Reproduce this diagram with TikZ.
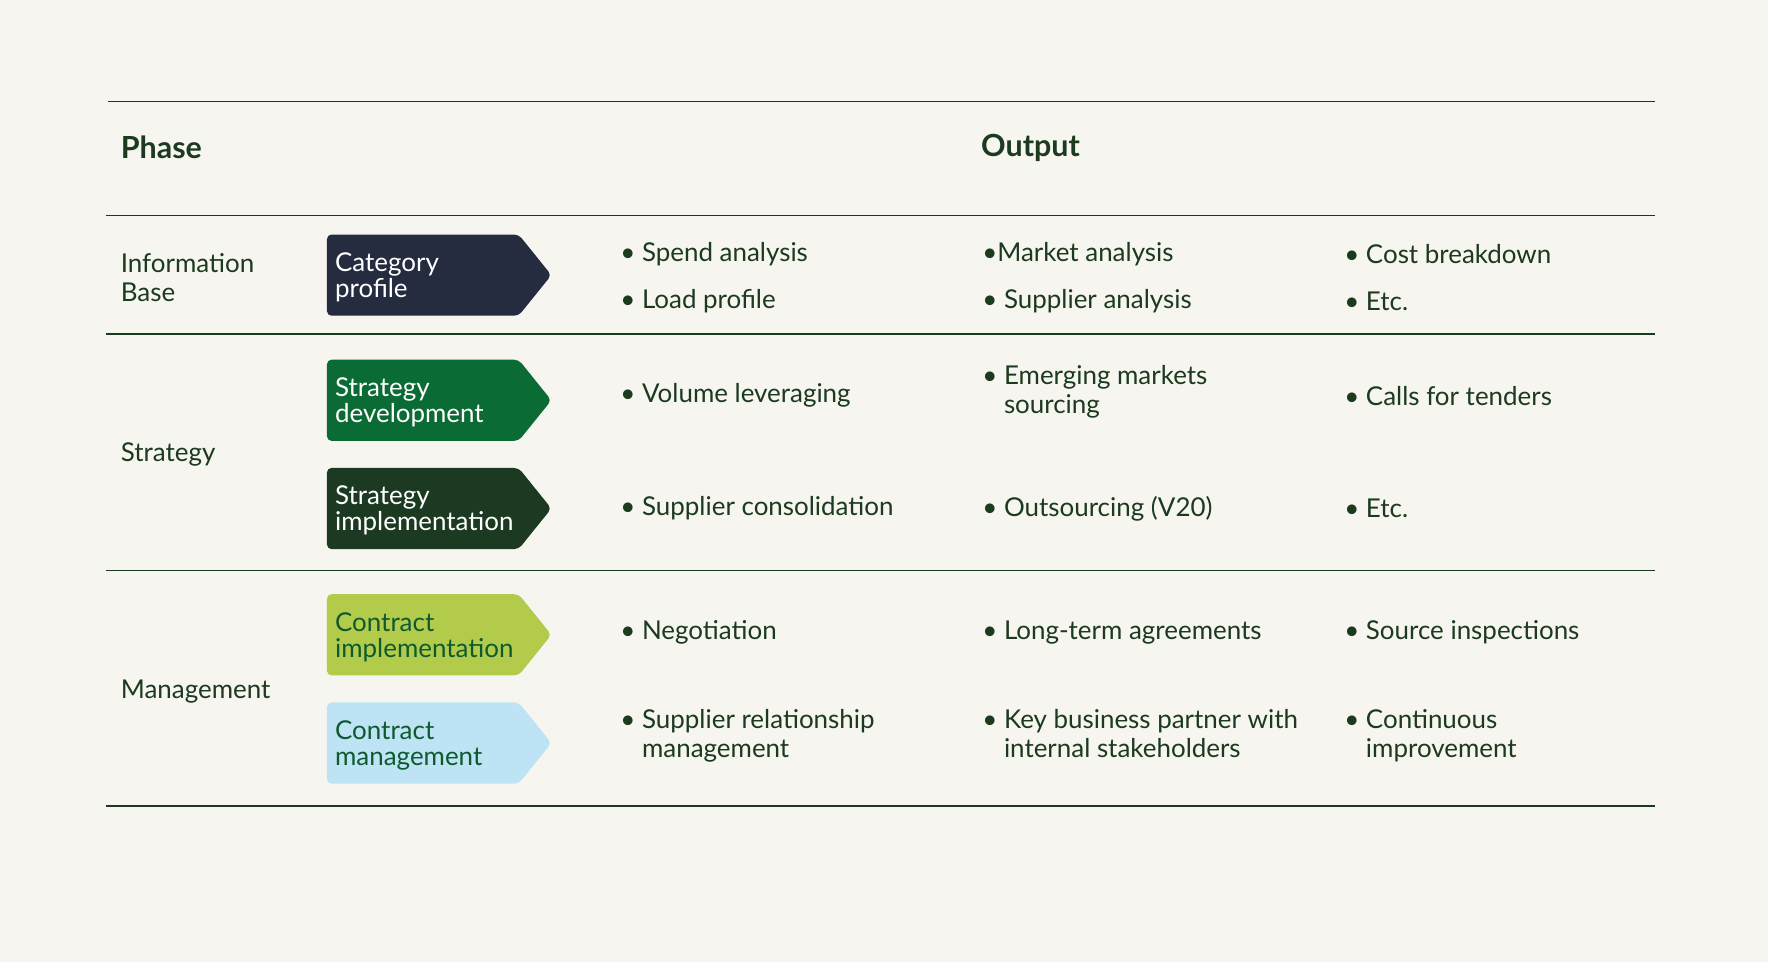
\documentclass[tikz,border=0pt]{standalone}
\usepackage{fontspec}
\setmainfont{Lato}
\definecolor{bg}{HTML}{F7F5F0}
\definecolor{txt}{HTML}{1B3A1E}
\definecolor{navy}{HTML}{262C40}
\definecolor{grn}{HTML}{0B6B35}
\definecolor{dgrn}{HTML}{1C3A22}
\definecolor{lime}{HTML}{B3CB4A}
\definecolor{lblue}{HTML}{BDE3F5}
\definecolor{tgrn}{HTML}{0E5A2E}
\begin{document}
\begin{tikzpicture}[x=1pt,y=-1pt,
 lbl/.style={anchor=west,text=txt,font=\fontsize{23}{26}\selectfont,align=left,inner sep=0},
 hdr/.style={anchor=west,text=txt,font=\fontsize{27}{30}\selectfont\bfseries,inner sep=0},
 atext/.style={anchor=west,font=\fontsize{23}{23}\selectfont,align=left,inner sep=0},
 rule/.style={draw=txt,line width=1.4}]
\fill[bg] (0,0) rectangle (1568,853);
\useasboundingbox (0,0) rectangle (1568,853);
\newcommand{\arr}[4]{% y-center, fill, textcolor, text
 \fill[#2,rounded corners=4] (290,#1-36) -- (460,#1-36) -- (489,#1) -- (460,#1+36) -- (290,#1+36) -- cycle;
 \node[atext,text=#3] at (297,#1+2) {#4};}
\draw[rule] (96,90) -- (1468,90);
\foreach \y in {191,296,506,715} \draw[rule] (94,\y) -- (1468,\y);
\node[hdr] (ph) at (107,131) {Phase};
\node[hdr] (out) at (870,131) {Output};
\node[lbl] (ib) at (107,246) {Information\\Base};
\node[lbl] (st) at (107,403) {Strategy};
\node[lbl] (mg) at (107,613) {Management};
\arr{244}{navy}{white}{Category\\profile}
\arr{355}{grn}{white}{Strategy\\development}
\arr{451}{dgrn}{white}{Strategy\\implementation}
\arr{563}{lime}{tgrn}{Contract\\implementation}
\arr{659}{lblue}{tgrn}{Contract\\management}
\node[lbl] at (550,225) {• Spend analysis};
\node[lbl] at (550,267) {• Load profile};
\node[lbl] at (550,351) {• Volume leveraging};
\node[lbl] at (550,451) {• Supplier consolidation};
\node[lbl] at (550,561) {• Negotiation};
\node[lbl,anchor=north west] at (550,629) {• Supplier relationship\\\phantom{• }management};
\node[lbl] at (871,225) {•Market analysis};
\node[lbl] at (871,267) {• Supplier analysis};
\node[lbl,anchor=north west] at (871,324) {• Emerging markets\\\phantom{• }sourcing};
\node[lbl] at (871,451) {• Outsourcing (V20)};
\node[lbl] at (871,561) {• Long-term agreements};
\node[lbl,anchor=north west] at (871,629) {• Key business partner with\\\phantom{• }internal stakeholders};
\node[lbl] at (1192,225) {• Cost breakdown};
\node[lbl] at (1192,267) {• Etc.};
\node[lbl] at (1192,351) {• Calls for tenders};
\node[lbl] at (1192,451) {• Etc.};
\node[lbl] at (1192,561) {• Source inspections};
\node[lbl,anchor=north west] at (1192,629) {• Continuous\\\phantom{• }improvement};
\end{tikzpicture}
\end{document}
